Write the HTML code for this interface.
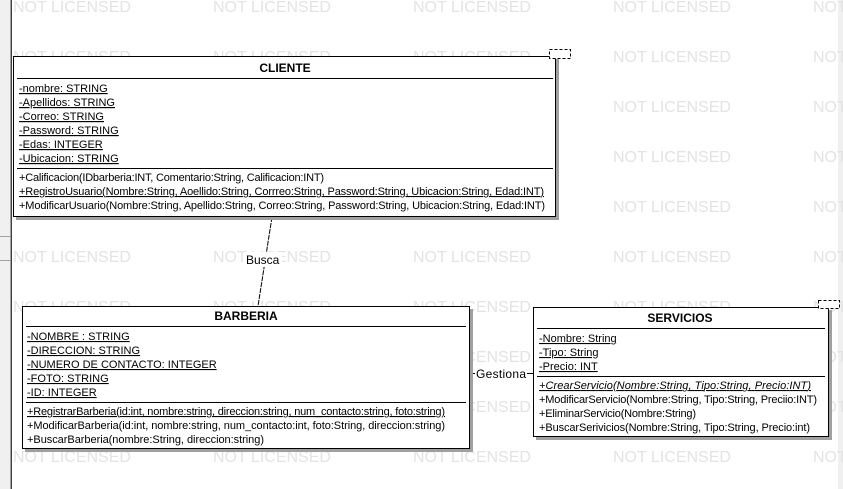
<!DOCTYPE html>
<html><head><meta charset="utf-8"><style>
html,body{margin:0;padding:0;background:#fff;}
svg{display:block;}
text{font-family:"Liberation Sans",Arial,sans-serif;font-size:11px;fill:#000;}
.wm{fill:#e3e3e3;font-size:16px;}
.u{text-decoration:underline;}
.b{font-weight:bold;font-size:12px;}
</style></head><body>
<svg width="843" height="489" viewBox="0 0 843 489" xmlns="http://www.w3.org/2000/svg">
<rect x="0" y="0" width="843" height="489" fill="#fff"/>
<!-- left strip -->
<rect x="0" y="0" width="10" height="489" fill="#f0f0f0"/>
<line x1="0" y1="236.5" x2="10" y2="236.5" stroke="#a0a0a0"/>
<line x1="0" y1="260.5" x2="10" y2="260.5" stroke="#a0a0a0"/>
<rect x="10" y="0" width="1" height="489" fill="#a0a0a0"/>
<rect x="11" y="0" width="1" height="489" fill="#404040"/>
<rect x="838" y="0" width="5" height="489" fill="#f0f0f0"/>
<!-- watermarks -->
<g class="wm">
<text class="wm" x="13" y="12">NOT LICENSED</text><text class="wm" x="213" y="12">NOT LICENSED</text><text class="wm" x="413" y="12">NOT LICENSED</text><text class="wm" x="613" y="12">NOT LICENSED</text><text class="wm" x="813" y="12">NOT LICENSED</text>
<text class="wm" x="13" y="62">NOT LICENSED</text><text class="wm" x="213" y="62">NOT LICENSED</text><text class="wm" x="413" y="62">NOT LICENSED</text><text class="wm" x="613" y="62">NOT LICENSED</text><text class="wm" x="813" y="62">NOT LICENSED</text>
<text class="wm" x="613" y="112">NOT LICENSED</text><text class="wm" x="813" y="112">NOT LICENSED</text>
<text class="wm" x="613" y="162">NOT LICENSED</text><text class="wm" x="813" y="162">NOT LICENSED</text>
<text class="wm" x="613" y="212">NOT LICENSED</text><text class="wm" x="813" y="212">NOT LICENSED</text>
<text class="wm" x="13" y="262">NOT LICENSED</text><text class="wm" x="213" y="262">NOT LICENSED</text><text class="wm" x="413" y="262">NOT LICENSED</text><text class="wm" x="613" y="262">NOT LICENSED</text><text class="wm" x="813" y="262">NOT LICENSED</text>
<text class="wm" x="13" y="312">NOT LICENSED</text><text class="wm" x="213" y="312">NOT LICENSED</text><text class="wm" x="413" y="312">NOT LICENSED</text><text class="wm" x="613" y="312">NOT LICENSED</text><text class="wm" x="813" y="312">NOT LICENSED</text>
<text class="wm" x="413" y="362">NOT LICENSED</text><text class="wm" x="813" y="362">NOT LICENSED</text>
<text class="wm" x="413" y="412">NOT LICENSED</text><text class="wm" x="813" y="412">NOT LICENSED</text>
<text class="wm" x="13" y="462">NOT LICENSED</text><text class="wm" x="213" y="462">NOT LICENSED</text><text class="wm" x="413" y="462">NOT LICENSED</text><text class="wm" x="613" y="462">NOT LICENSED</text><text class="wm" x="813" y="462">NOT LICENSED</text>
</g>
<!-- connectors -->
<line x1="272" y1="217" x2="258" y2="306" stroke="#000" stroke-dasharray="5,1"/>
<rect x="245" y="252" width="37" height="15" fill="#fff"/>
<text x="246" y="264" style="font-size:12px">Busca</text>
<line x1="469" y1="373.5" x2="533" y2="373.5" stroke="#000"/>
<rect x="475" y="366" width="52" height="15" fill="#fff"/>
<text x="476" y="378" style="font-size:12px" textLength="50">Gestiona</text>

<!-- CLIENTE -->
<rect x="16" y="59" width="543" height="161" fill="#a0a0a0"/>
<rect x="13.5" y="56.5" width="542" height="160" fill="#fff" stroke="#000"/>
<rect x="549.5" y="49.5" width="21" height="9" fill="#fff" stroke="#000" stroke-dasharray="3,2"/>
<text class="b" x="285" y="72" text-anchor="middle">CLIENTE</text>
<line x1="17" y1="78.5" x2="553" y2="78.5" stroke="#000"/>
<g class="u">
<text class="u" x="19" y="92">-nombre: STRING</text>
<text class="u" x="19" y="106">-Apellidos: STRING</text>
<text class="u" x="19" y="120">-Correo: STRING</text>
<text class="u" x="19" y="134">-Password: STRING</text>
<text class="u" x="19" y="148">-Edas: INTEGER</text>
<text class="u" x="19" y="162">-Ubicacion: STRING</text>
</g>
<line x1="17" y1="168.5" x2="553" y2="168.5" stroke="#000"/>
<text x="19" y="181" textLength="305">+Calificacion(IDbarberia:INT, Comentario:String, Calificacion:INT)</text>
<text class="u" x="19" y="195" textLength="525">+RegistroUsuario(Nombre:String, Aoellido:String, Corrreo:String, Password:String, Ubicacion:String, Edad:INT)</text>
<text x="19" y="209" textLength="526">+ModificarUsuario(Nombre:String, Apellido:String, Correo:String, Password:String, Ubicacion:String, Edad:INT)</text>

<!-- BARBERIA -->
<rect x="25" y="309" width="448" height="143" fill="#a0a0a0"/>
<rect x="22.5" y="306.5" width="447" height="142" fill="#fff" stroke="#000"/>
<text class="b" x="246" y="320" text-anchor="middle">BARBERIA</text>
<line x1="26" y1="326.5" x2="466" y2="326.5" stroke="#000"/>
<text class="u" x="27" y="340">-NOMBRE : STRING</text>
<text class="u" x="27" y="354">-DIRECCION: STRING</text>
<text class="u" x="27" y="368">-NUMERO DE CONTACTO: INTEGER</text>
<text class="u" x="27" y="382">-FOTO: STRING</text>
<text class="u" x="27" y="396">-ID: INTEGER</text>
<line x1="26" y1="402.5" x2="466" y2="402.5" stroke="#000"/>
<text class="u" x="27" y="415" textLength="418">+RegistrarBarberia(id:int, nombre:string, direccion:string, num_contacto:string, foto:string)</text>
<text x="27" y="429" textLength="418">+ModificarBarberia(id:int, nombre:string, num_contacto:int, foto:String, direccion:string)</text>
<text x="27" y="443" textLength="237">+BuscarBarberia(nombre:String, direccion:string)</text>

<!-- SERVICIOS -->
<rect x="536" y="310" width="296" height="130" fill="#a0a0a0"/>
<rect x="533.5" y="307.5" width="295" height="129" fill="#fff" stroke="#000"/>
<rect x="818.5" y="300.5" width="21" height="8" fill="#fff" stroke="#000" stroke-dasharray="3,2"/>
<text class="b" x="680" y="322" text-anchor="middle">SERVICIOS</text>
<line x1="537" y1="328.5" x2="825" y2="328.5" stroke="#000"/>
<text class="u" x="539" y="342">-Nombre: String</text>
<text class="u" x="539" y="356">-Tipo: String</text>
<text class="u" x="539" y="370">-Precio: INT</text>
<line x1="537" y1="376.5" x2="825" y2="376.5" stroke="#000"/>
<text class="u" x="539" y="389" font-style="italic" textLength="272">+CrearServicio(Nombre:String, Tipo:String, Precio:INT)</text>
<text x="539" y="403" textLength="278">+ModificarServicio(Nombre:String, Tipo:String, Preciio:INT)</text>
<text x="539" y="417" textLength="157">+EliminarServicio(Nombre:String)</text>
<text x="539" y="431" textLength="271">+BuscarSerivicios(Nombre:String, Tipo:String, Precio:int)</text>
</svg>
</body></html>
